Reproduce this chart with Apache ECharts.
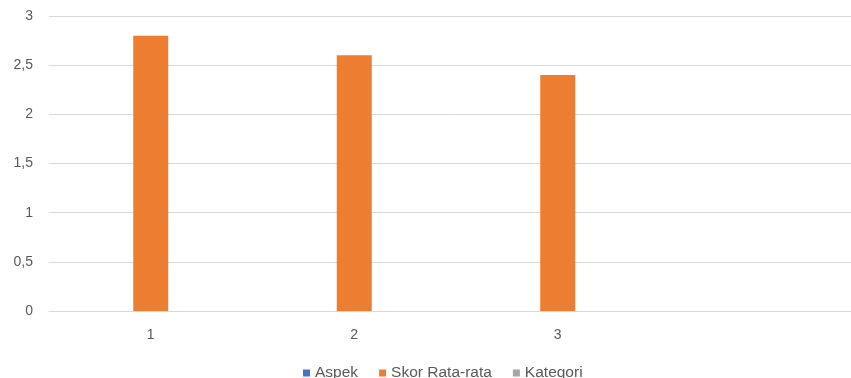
<!DOCTYPE html>
<html><head><meta charset="utf-8">
<script src="https://cdn.jsdelivr.net/npm/echarts@6/dist/echarts.min.js"></script>
<style>html,body{margin:0;padding:0;background:#fff}#c{width:851px;height:378px}</style>
</head><body><div id="c"></div>
<script>
const categories = ['1', '2', '3', ''];
const aspek = [null, null, null, null];
const skorRataRata = [2.8, 2.6, 2.4, null];
const kategori = [null, null, null, null];
const seriesNames = ['Aspek', 'Skor Rata-rata', 'Kategori'];
const colors = ['#4472C4', '#ED7D31', '#A5A5A5'];

const chart = echarts.init(document.getElementById('c'));
const font = 'Liberation Sans';
chart.setOption({
  animation: false,
  color: colors,
  textStyle: { fontFamily: font },
  grid: { left: 49, width: 814, top: 16, height: 295, containLabel: false, outerBoundsMode: 'none' },
  legend: {
    top: 360, left: 298,
    icon: 'rect', itemWidth: 7, itemHeight: 7, itemGap: 21,
    textStyle: { color: '#595959', fontSize: 15.5, fontFamily: font },
    data: seriesNames
  },
  xAxis: {
    type: 'category', data: categories,
    axisLine: { show: true, lineStyle: { color: '#D9D9D9', width: 1 } },
    axisTick: { show: false },
    axisLabel: { color: '#595959', fontSize: 14, margin: 17 }
  },
  yAxis: {
    type: 'value', min: 0, max: 3, interval: 0.5,
    axisLine: { show: false }, axisTick: { show: false },
    splitLine: { lineStyle: { color: '#D9D9D9', width: 1 } },
    axisLabel: { color: '#595959', fontSize: 14, margin: 16,
      formatter: v => String(v).replace('.', ',') }
  },
  series: [
    { name: seriesNames[0], type: 'bar', data: aspek, barWidth: 35, barGap: '0%' },
    { name: seriesNames[1], type: 'bar', data: skorRataRata, barWidth: 35, barGap: '0%' },
    { name: seriesNames[2], type: 'bar', data: kategori, barWidth: 35, barGap: '0%' }
  ]
});
</script></body></html>
